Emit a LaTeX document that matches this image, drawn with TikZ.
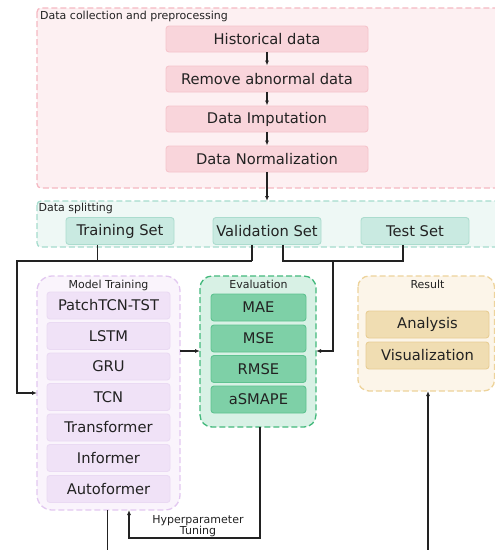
\documentclass[tikz,border=0pt]{standalone}
\usepackage{fontspec}
\setmainfont{DejaVu Sans}
\usetikzlibrary{arrows.meta}

\definecolor{pinkbg}{HTML}{FDF0F2}
\definecolor{pinkln}{HTML}{F5B8C2}
\definecolor{pinkbox}{HTML}{F9D5DB}
\definecolor{pinkboxln}{HTML}{F6C4CC}
\definecolor{tealbg}{HTML}{EEF8F5}
\definecolor{tealln}{HTML}{A5DCCD}
\definecolor{tealbox}{HTML}{C9EAE1}
\definecolor{tealboxln}{HTML}{ABDCCE}
\definecolor{lavbg}{HTML}{FAF4FC}
\definecolor{lavln}{HTML}{E2C8F0}
\definecolor{lavbox}{HTML}{F0E2F7}
\definecolor{lavboxln}{HTML}{EADAF3}
\definecolor{grnbg}{HTML}{D8F1E5}
\definecolor{grnln}{HTML}{43B97C}
\definecolor{grnbox}{HTML}{7ED0A7}
\definecolor{grnboxln}{HTML}{5EC290}
\definecolor{sandbg}{HTML}{FCF5E9}
\definecolor{sandln}{HTML}{EDD39B}
\definecolor{sandbox}{HTML}{F0DDB2}
\definecolor{sandboxln}{HTML}{E8CD94}
\definecolor{ink}{HTML}{222222}

\tikzset{
  group/.style={dash pattern=on 6pt off 3pt, line width=1.3pt},
  item/.style={rectangle, rounded corners=3pt, line width=0.9pt, inner sep=0pt,
    font=\fontsize{14.7}{16}\selectfont, text=ink},
  title/.style={font=\fontsize{11}{12}\selectfont, text=ink, inner sep=0pt},
  conn/.style={line width=1.4pt, ink},
  tip/.style={-{Latex[length=5pt,width=4pt]}},
}

\begin{document}
\begin{tikzpicture}[x=1pt,y=-1pt]
\useasboundingbox (0,0) rectangle (495,550);
\clip (0,0) rectangle (495,550);

% ---------- group frames ----------
\draw[group, draw=pinkln, fill=pinkbg, rounded corners=4pt] (37,8) rectangle (520,188);
\node[title, anchor=west] (tprep) at (40,16.5) {Data collection and preprocessing};

\draw[group, draw=tealln, fill=tealbg, rounded corners=4pt] (37,201) rectangle (520,247);
\node[title, anchor=west] (tsplit) at (38.5,208.5) {Data splitting};

\draw[group, draw=lavln, fill=lavbg, rounded corners=15pt] (37,276) rectangle (180,510);
\node[title] (ttrain) at (108.5,285) {Model Training};

\draw[group, draw=grnln, fill=grnbg, rounded corners=12pt] (200,276) rectangle (316,427);
\node[title] (teval) at (258.5,284.5) {Evaluation};

\draw[group, draw=sandln, fill=sandbg, rounded corners=11pt] (358,276) rectangle (494.5,391);
\node[title] (tres) at (427.5,284.5) {Result};

% ---------- preprocessing steps ----------
\tikzset{pk/.style={item, fill=pinkbox, draw=pinkboxln, minimum width=202pt, minimum height=26pt}}
\node[pk] (hist) at (267,39) {Historical data};
\node[pk] (abn)  at (267,79) {Remove abnormal data};
\node[pk] (imp)  at (267,119) {Data Imputation};
\node[pk] (norm) at (267,159) {Data Normalization};

% ---------- data sets ----------
\tikzset{tl/.style={item, fill=tealbox, draw=tealboxln, minimum width=108pt, minimum height=27pt}}
\node[tl] (train) at (120,231) {Training Set};
\node[tl] (valid) at (267,231) {Validation Set};
\node[tl] (test)  at (415,231) {Test Set};

% ---------- models ----------
\tikzset{lv/.style={item, fill=lavbox, draw=lavboxln, minimum width=123pt, minimum height=27pt}}
\node[lv] (m1) at (108.5,305.5) {PatchTCN-TST};
\node[lv] (m2) at (108.5,336) {LSTM};
\node[lv] (m3) at (108.5,366.5) {GRU};
\node[lv] (m4) at (108.5,397) {TCN};
\node[lv] (m5) at (108.5,427.5) {Transformer};
\node[lv] (m6) at (108.5,458) {Informer};
\node[lv] (m7) at (108.5,489) {Autoformer};

% ---------- metrics ----------
\tikzset{gr/.style={item, fill=grnbox, draw=grnboxln, minimum width=95pt, minimum height=27pt}}
\node[gr] (e1) at (258.5,307.5) {MAE};
\node[gr] (e2) at (258.5,338.5) {MSE};
\node[gr] (e3) at (258.5,369) {RMSE};
\node[gr] (e4) at (258.5,399.5) {aSMAPE};

% ---------- result ----------
\tikzset{sd/.style={item, fill=sandbox, draw=sandboxln, minimum width=123pt, minimum height=27pt}}
\node[sd] (r1) at (427.5,324.5) {Analysis};
\node[sd] (r2) at (427.5,355.5) {Visualization};

% ---------- frame anchors ----------
\coordinate (prepS)  at (267,201);
\coordinate (mtL)    at (37,393);
\coordinate (mtR)    at (180,351);
\coordinate (evL)    at (200,351);
\coordinate (evR)    at (316,351);
\coordinate (evB)    at (260,427);
\coordinate (mtB1)   at (107.5,510);
\coordinate (mtB2)   at (129,510);
\coordinate (resB)   at (428,391);
\coordinate (bot1)   at (107.5,552);
\coordinate (bot2)   at (428,552);

% junction points
\coordinate (ja) at (17,261);
\coordinate (jb) at (97.5,261);
\coordinate (jc) at (252,261);
\coordinate (jd) at (283,261);
\coordinate (je) at (333,261);
\coordinate (jf) at (403,261);
\coordinate (jh) at (129,538);
\coordinate (jg) at (260,538);

% ---------- connectors ----------
\draw[conn, tip] (hist) -- (abn);
\draw[conn, tip] (abn) -- (imp);
\draw[conn, tip] (imp) -- (norm);
\draw[conn, tip] (norm) -- (prepS);

\draw[conn] (jb |- train.south) -- (jb);
\draw[conn] (jc |- valid.south) -- (jc);
\draw[conn, tip] (jc) -- (ja) |- (mtL);

\draw[conn] (jd |- valid.south) -- (jd) -- (jf) -- (jf |- test.south);
\draw[conn, tip] (je) |- (evR);

\draw[conn, tip] (mtR) -- (evL);

\draw[conn, tip] (evB) -- (jg) -- (jh) -- (mtB2);
\node[title, align=center, font=\fontsize{11}{11}\selectfont] (hyp) at (198,526) {Hyperparameter\\Tuning};

\draw[conn] (mtB1) -- (bot1);
\draw[conn, tip] (bot2) -- (resB);
\end{tikzpicture}
\end{document}
